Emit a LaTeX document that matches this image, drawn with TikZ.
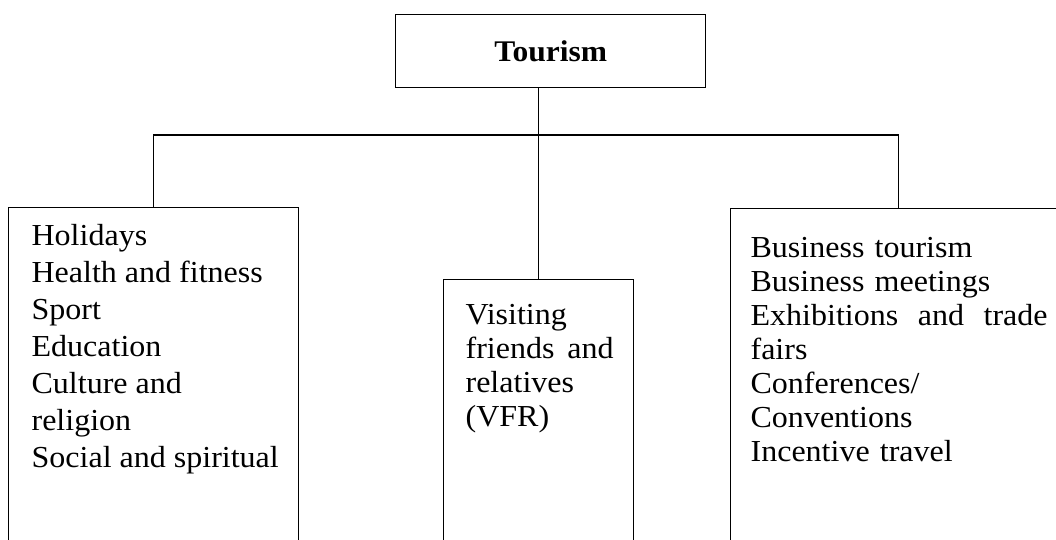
\documentclass[tikz,border=0pt]{standalone}
\usepackage{fontspec}
\setmainfont{Liberation Serif}[FakeStretch=1.05]
\usetikzlibrary{positioning}
\tikzset{
  box/.style={draw, line width=1.4pt, anchor=north west, inner sep=0pt},
  items/.style={inner sep=0pt, align=left, font=\fontsize{30.5}{34}\selectfont},
}
\begin{document}
\begin{tikzpicture}[x=1pt,y=-1pt,line width=1.2pt]
    \useasboundingbox (0,0) rectangle (1056,540);
    \clip (0,0) rectangle (1056,540);
    % top box
    \node [box, minimum width=310pt, minimum height=73pt, font=\fontsize{30}{34}\selectfont\bfseries] (tourism) at (395,14) {Tourism};
    % three groups
    \node [box, minimum width=290pt, minimum height=400pt] (leisure) at (8,207) {};
    \node [box, minimum width=190pt, minimum height=400pt] (vfr) at (443,279) {};
    \node [box, minimum width=336pt, minimum height=400pt] (business) at (730,208) {};
    \node [items, font=\fontsize{30.5}{37}\selectfont, below right=17pt and 23pt of leisure.north west] (leisurelist)
        {Holidays\\ Health and fitness\\ Sport\\ Education\\ Culture and\\ religion\\ Social and spiritual};
    \node [items, text width=148pt, below right=25pt and 22pt of vfr.north west] (vfrlist)
        {Visiting\\ friends \hfill and\\ relatives\\ (VFR)};
    \node [items, text width=297pt, below right=29pt and 20pt of business.north west] (businesslist)
        {Business tourism\\ Business meetings\\ Exhibitions \hfill and \hfill trade\\ fairs\\ Conferences/\\ Conventions\\ Incentive travel};
    % connectors
    \coordinate (fork) at (538,135);
    \draw (tourism.south -| vfr.north) -- (vfr.north);
    \draw (leisure.north) |- (fork) -| (business.north);
\end{tikzpicture}
\end{document}
